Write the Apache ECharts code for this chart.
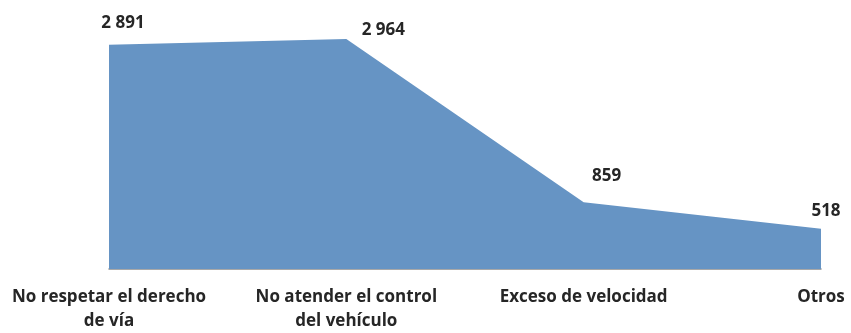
<!DOCTYPE html>
<html>
<head>
<meta charset="utf-8">
<script src="https://cdn.jsdelivr.net/npm/echarts@6/dist/echarts.min.js"></script>
<style>html,body{margin:0;padding:0;background:#fff;}#c{width:851px;height:333px;}</style>
</head>
<body>
<div id="c"></div>
<script>
const categories = ['No respetar el derecho\nde vía', 'No atender el control\ndel vehículo', 'Exceso de velocidad', 'Otros'];
const values = [2891, 2964, 859, 518];
const valueLabels = ['2 891', '2 964', '859', '518'];

const labelOffsets = [[14, -8], [37, 5], [23, -12], [5, -4]];
const chart = echarts.init(document.getElementById('c'));
const font = { color: '#262626', fontFamily: 'Open Sans', fontWeight: 'bold', fontSize: 17 };
chart.setOption({
  animation: false,
  grid: { left: 109, right: 30, top: 36.2, bottom: 63 },
  xAxis: {
    type: 'category', data: categories, boundaryGap: false,
    axisLine: { lineStyle: { color: '#8c8c8c', width: 1.5 } },
    axisTick: { show: false },
    axisLabel: Object.assign({ interval: 0, lineHeight: 24, margin: 16 }, font)
  },
  yAxis: { type: 'value', min: 0, max: 3000, show: false, splitLine: { show: false } },
  series: [{
    type: 'line',
    data: values.map((v, i) => ({
      value: v,
      label: { offset: labelOffsets[i] }
    })),
    symbol: 'circle', symbolSize: 1,
    itemStyle: { color: 'rgba(0,0,0,0)' },
    lineStyle: { width: 0 },
    areaStyle: { color: '#6694C4', opacity: 1 },
    label: Object.assign({
      show: true, position: 'top', distance: 5,
      formatter: p => valueLabels[p.dataIndex]
    }, font)
  }]
});
</script>
</body>
</html>
